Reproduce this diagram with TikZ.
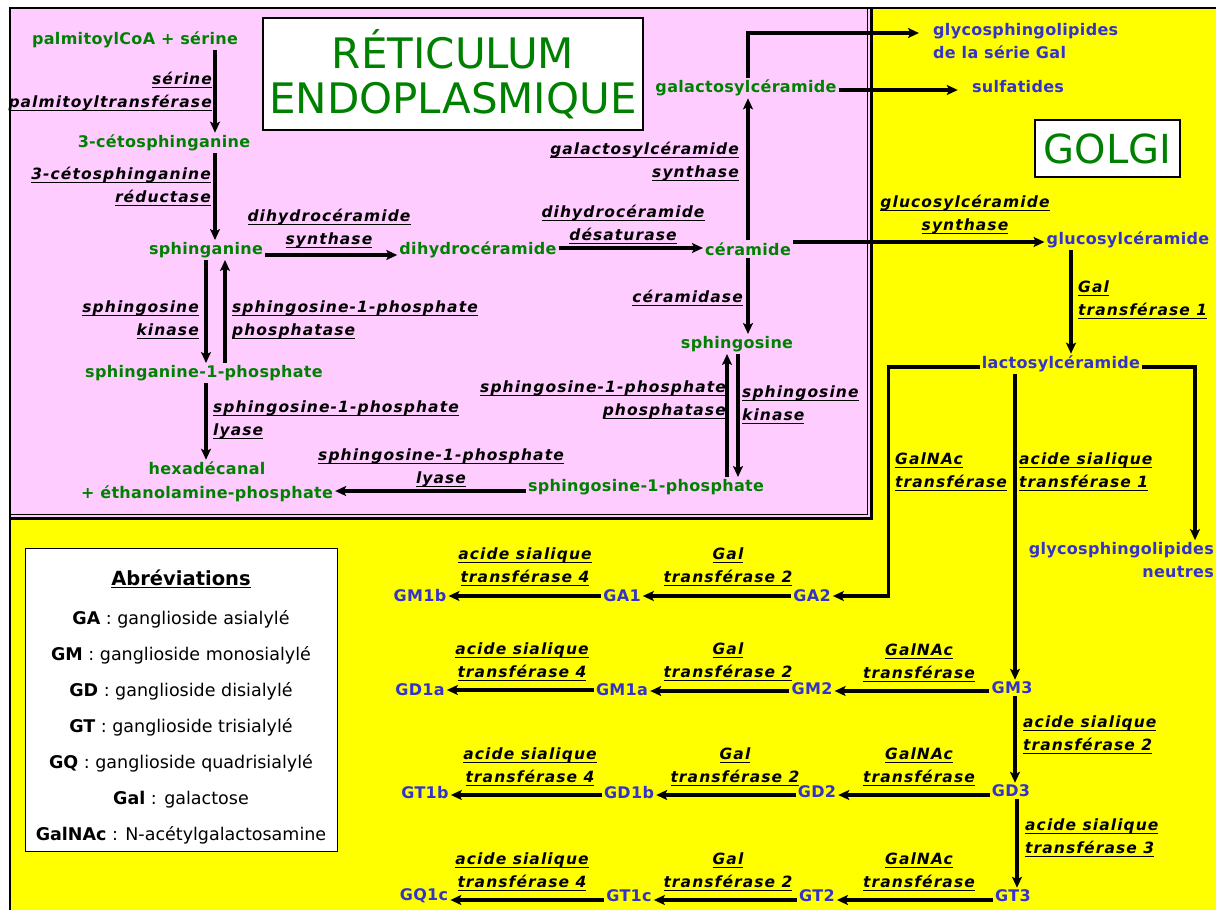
\documentclass[tikz,border=0pt]{standalone}
\usepackage{fontspec}
\setmainfont{DejaVu Sans}
\newfontfamily\nodefont{DejaVu Sans}[LetterSpace=2]
\newfontfamily\enzfont{DejaVu Sans}[LetterSpace=7]
\newfontfamily\titlefont{DejaVu Sans}
\usetikzlibrary{arrows.meta}
\definecolor{ergreen}{RGB}{0,128,0}
\definecolor{gblue}{RGB}{51,51,204}
\definecolor{pinkbg}{RGB}{255,204,255}
\definecolor{yelbg}{RGB}{255,255,0}
\newcommand{\enzu}[1]{\setbox0\hbox{#1}\rlap{\rule[-3.5pt]{\wd0}{1.4pt}}\box0}
\tikzset{
  gnode/.style={text=ergreen, font=\nodefont\bfseries\fontsize{16}{24}\selectfont, inner sep=2pt},
  bnode/.style={text=gblue, font=\nodefont\bfseries\fontsize{16}{23}\selectfont, inner sep=2pt},
  enz/.style={font=\enzfont\bfseries\itshape\fontsize{15.5}{23}\selectfont, inner sep=0pt, yshift=-2pt},
  arr/.style={line width=3.2pt, -{Stealth[length=11pt,width=10pt,inset=2.5pt]}},
  titlebox/.style={draw, line width=1.5pt, fill=white, text=ergreen, font=\titlefont\fontsize{42}{45}\selectfont, align=center, inner sep=0pt},
}
\begin{document}
\begin{tikzpicture}[x=1pt,y=-1pt]
\useasboundingbox (0,0) rectangle (1216,910);
% backgrounds
\fill[white] (0,0) rectangle (1216,910);
\fill[yelbg] (10,8) rectangle (1216,910);
\fill[pinkbg] (10,8) rectangle (869,517);
\draw[line width=1pt] (10,514) -- (867,514) -- (867,8);
\draw[line width=3pt] (10,518.5) -- (871,518.5) -- (871,8);
\draw[line width=2pt] (10,910) -- (10,8) -- (1216,8);
% title boxes
\node[titlebox, minimum width=380, minimum height=112] (er) at (453,74) {RÉTICULUM\\ENDOPLASMIQUE};
\node[titlebox, minimum width=145, minimum height=57, font=\titlefont\fontsize{40}{45}\selectfont] (golgi) at (1107.5,148.5) {GOLGI};
% green nodes
\node[gnode] (palm) at (135,40) {palmitoylCoA + sérine};
\node[gnode] (ceto) at (164,143) {3-cétosphinganine};
\node[gnode] (sphin) at (206,250) {sphinganine};
\node[gnode] (dhc) at (478,250) {dihydrocéramide};
\node[gnode] (cer) at (748,249) {céramide};
\node[gnode] (galc) at (746,88) {galactosylcéramide};
\node[gnode] (s1p) at (204,373) {sphinganine-1-phosphate};
\node[gnode, align=center] (hexa) at (207,482) {hexadécanal\\+ éthanolamine-phosphate};
\node[gnode] (sphgo) at (737,344) {sphingosine};
\node[gnode] (sgo1p) at (646,487) {sphingosine-1-phosphate};
% blue nodes
\node[bnode, align=left, anchor=west] (glygal) at (931,41) {glycosphingolipides\\de la série Gal};
\node[bnode] (sulf) at (1018,87) {sulfatides};
\node[bnode] (gluc) at (1128,240) {glucosylcéramide};
\node[bnode] (lacto) at (1061,364) {lactosylcéramide};
\node[bnode, align=right, anchor=east] (neutres) at (1216,560) {glycosphingolipides\\neutres};
\node[bnode] (GMib) at (420,596) {GM1b};
\node[bnode] (GAi) at (622,596) {GA1};
\node[bnode] (GAii) at (812,596) {GA2};
\node[bnode] (GDia) at (420,690) {GD1a};
\node[bnode] (GMia) at (622,690) {GM1a};
\node[bnode] (GMii) at (812,689) {GM2};
\node[bnode] (GMiii) at (1012,688) {GM3};
\node[bnode] (GTib) at (425,793) {GT1b};
\node[bnode] (GDib) at (629,793) {GD1b};
\node[bnode] (GDii) at (817,792) {GD2};
\node[bnode] (GDiii) at (1011,791) {GD3};
\node[bnode] (GQic) at (424,896) {GQ1c};
\node[bnode] (GTic) at (629,896) {GT1c};
\node[bnode] (GTii) at (817,896) {GT2};
\node[bnode] (GTiii) at (1013,896) {GT3};
% enzyme labels
\node[enz, align=right, anchor=east] (e1) at (212,90) {\enzu{sérine}\\\enzu{palmitoyltransférase}};
\node[enz, align=right, anchor=east] (e2) at (211,185) {\enzu{3-cétosphinganine}\\\enzu{réductase}};
\node[enz, align=center] (e3) at (329,227) {\enzu{dihydrocéramide}\\\enzu{synthase}};
\node[enz, align=center] (e4) at (623,223) {\enzu{dihydrocéramide}\\\enzu{désaturase}};
\node[enz, align=right, anchor=east] (e5) at (739,160) {\enzu{galactosylcéramide}\\\enzu{synthase}};
\node[enz, align=center] (e6) at (965,213) {\enzu{glucosylcéramide}\\\enzu{synthase}};
\node[enz, align=right, anchor=east] (e7) at (743,296) {\enzu{céramidase}};
\node[enz, align=right, anchor=east] (e8) at (199,318) {\enzu{sphingosine}\\\enzu{kinase}};
\node[enz, align=left, anchor=west] (e9) at (232,318) {\enzu{sphingosine-1-phosphate}\\\enzu{phosphatase}};
\node[enz, align=left, anchor=west] (e10) at (213,418) {\enzu{sphingosine-1-phosphate}\\\enzu{lyase}};
\node[enz, align=center] (e11) at (441,466) {\enzu{sphingosine-1-phosphate}\\\enzu{lyase}};
\node[enz, align=right, anchor=east] (e12) at (726,398) {\enzu{sphingosine-1-phosphate}\\\enzu{phosphatase}};
\node[enz, align=left, anchor=west] (e13) at (742,403) {\enzu{sphingosine}\\\enzu{kinase}};
\node[enz, align=left, anchor=west] (e14) at (1078,298) {\enzu{Gal}\\\enzu{transférase 1}};
\node[enz, align=left, anchor=west] (e15) at (895,470) {\enzu{GalNAc}\\\enzu{transférase}};
\node[enz, align=left, anchor=west] (e16) at (1019,470) {\enzu{acide sialique}\\\enzu{transférase 1}};
\node[enz, align=left, anchor=west] (e17) at (1023,733) {\enzu{acide sialique}\\\enzu{transférase 2}};
\node[enz, align=left, anchor=west] (e18) at (1025,836) {\enzu{acide sialique}\\\enzu{transférase 3}};
\foreach \yy/\nn in {661/a,765/b,870/c}{
  \node[enz, align=center] (gn\nn) at (919,\yy) {\enzu{GalNAc}\\\enzu{transférase}};
}
\node[enz, align=center] (g2a) at (728,565) {\enzu{Gal}\\\enzu{transférase 2}};
\node[enz, align=center] (g2b) at (728,660) {\enzu{Gal}\\\enzu{transférase 2}};
\node[enz, align=center] (g2c) at (735,765) {\enzu{Gal}\\\enzu{transférase 2}};
\node[enz, align=center] (g2d) at (728,870) {\enzu{Gal}\\\enzu{transférase 2}};
\node[enz, align=center] (s4a) at (525,565) {\enzu{acide sialique}\\\enzu{transférase 4}};
\node[enz, align=center] (s4b) at (522,660) {\enzu{acide sialique}\\\enzu{transférase 4}};
\node[enz, align=center] (s4c) at (530,765) {\enzu{acide sialique}\\\enzu{transférase 4}};
\node[enz, align=center] (s4d) at (522,870) {\enzu{acide sialique}\\\enzu{transférase 4}};
% abbreviations
\node[draw, fill=white, line width=0.8pt, minimum width=312, minimum height=303, inner sep=0pt] (abbr) at (181,700) {};
\node[align=center, inner sep=0pt, font=\fontsize{17.5}{36}\selectfont] (abbrtxt) at (181,707)
  {{\bfseries\fontsize{19.5}{24}\selectfont\underline{Abréviations}}\\[3pt]
   \textbf{GA} : ganglioside asialylé\\
   \textbf{GM} : ganglioside monosialylé\\
   \textbf{GD} : ganglioside disialylé\\
   \textbf{GT} : ganglioside trisialylé\\
   \textbf{GQ} : ganglioside quadrisialylé\\
   \textbf{Gal} : galactose\\
   \textbf{GalNAc} : N-acétylgalactosamine};
% arrows
\draw[arr] (palm.south -| 215,0) -- (ceto.north -| 215,0);
\draw[arr] (ceto.south -| 215,0) -- (sphin.north -| 215,0);
\draw[arr] (sphin.east |- 0,255) -- (dhc.west |- 0,255);
\draw[arr] (dhc.east |- 0,248) -- (cer.west |- 0,248);
\draw[arr] (cer.north -| 748,0) -- (galc.south -| 748,0);
\draw[arr, shorten >=12pt] (galc.north -| 748,0) |- (glygal.west |- 0,33);
\draw[arr, shorten >=12pt] (galc.east |- 0,90) -- (sulf.west |- 0,90);
\draw[arr] (cer.east |- 0,242) -- (gluc.west |- 0,242);
\draw[arr] (cer.south -| 748,0) -- (sphgo.north -| 748,0);
\draw[arr] (sphin.south -| 206,0) -- (s1p.north -| 206,0);
\draw[arr] (s1p.north -| 225,0) -- (sphin.south -| 225,0);
\draw[arr] (s1p.south -| 206,0) -- (hexa.north -| 206,0);
\draw[arr] (sgo1p.west |- 0,491) -- (hexa.east |- 0,491);
\draw[arr] (sphgo.south -| 738,0) -- (sgo1p.north -| 738,0);
\draw[arr] (sgo1p.north -| 727,0) -- (sphgo.south -| 727,0);
\draw[arr] (gluc.south -| 1071,0) -- (lacto.north -| 1071,0);
\draw[arr] (lacto.west |- 0,367) -| ([xshift=56pt]GAii.east) -- (GAii.east);
\draw[arr] (lacto.east |- 0,367) -| (neutres.north -| 1195,0);
\draw[arr] (lacto.south -| 1015,0) -- (GMiii.north -| 1015,0);
\draw[arr] (GMiii.south -| 1015,0) -- (GDiii.north -| 1015,0);
\draw[arr] (GDiii.south -| 1017,0) -- (GTiii.north -| 1017,0);
\draw[arr] (GMiii.west |- 0,691) -- (GMii.east |- 0,691);
\draw[arr] (GDiii.west |- 0,795) -- (GDii.east |- 0,795);
\draw[arr] (GTiii.west |- 0,900) -- (GTii.east |- 0,900);
\draw[arr] (GAii.west |- 0,596) -- (GAi.east |- 0,596);
\draw[arr] (GMii.west |- 0,691) -- (GMia.east |- 0,691);
\draw[arr] (GDii.west |- 0,795) -- (GDib.east |- 0,795);
\draw[arr] (GTii.west |- 0,900) -- (GTic.east |- 0,900);
\draw[arr] (GAi.west |- 0,596) -- (GMib.east |- 0,596);
\draw[arr] (GMia.west |- 0,690) -- (GDia.east |- 0,690);
\draw[arr] (GDib.west |- 0,795) -- (GTib.east |- 0,795);
\draw[arr] (GTic.west |- 0,900) -- (GQic.east |- 0,900);
\end{tikzpicture}
\end{document}
